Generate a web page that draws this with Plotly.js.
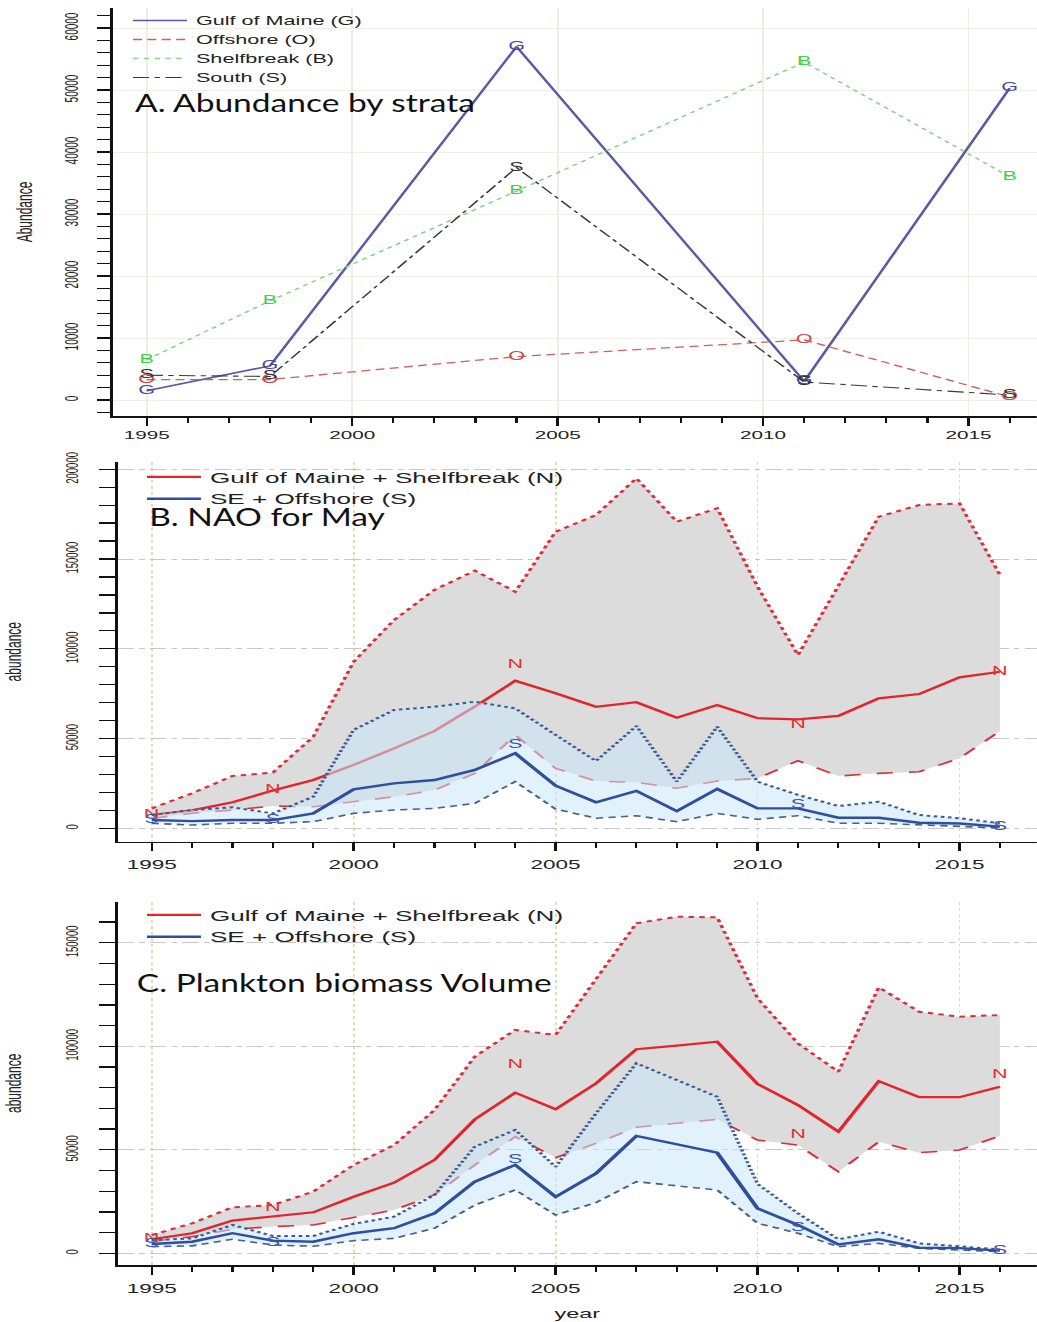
<!DOCTYPE html>
<html>
<head>
<meta charset="utf-8">
<script src="https://cdn.plot.ly/plotly-3.0.1.min.js"></script>
<style>
  html, body { margin: 0; padding: 0; background: #ffffff; overflow: hidden; }
  /* the figure is drawn narrow and widened as a whole (wide glyphs, as in the printed figure) */
  #chart { height: 1322px; transform-origin: 0 0; }
  /* panel headings keep closer-to-normal proportions */
  text.annotation-text { transform-box: fill-box; transform-origin: 50% 50%; transform: scaleX(0.745); }
</style>
</head>
<body>
<div id="chart"></div>
<script>
// ---- Panel A: abundance by stratum (survey years only) ----
const stratumYears = [1995, 1998, 2004, 2011, 2016];
const gulfOfMaine  = [1500, 5500, 57000, 3000, 50300];
const offshore     = [3300, 3300, 7000, 9700, 500];
const shelfbreak   = [6500, 16000, 33700, 54500, 36000];
const south        = [4000, 3800, 37500, 2900, 800];

// ---- Panels B and C: annual series ----
const years = [1995, 1996, 1997, 1998, 1999, 2000, 2001, 2002, 2003, 2004, 2005,
               2006, 2007, 2008, 2009, 2010, 2011, 2012, 2013, 2014, 2015, 2016];

// B. NAO for May
const nMeanB  = [7400, 10000, 14500, 21000, 26900, 35300, 44500, 54200, 67800, 82200, 75200,
                 67700, 70200, 61600, 68700, 61300, 60700, 62600, 72400, 74800, 84100, 87200];
const nUpperB = [11100, 19500, 29100, 31000, 51000, 92800, 116000, 132800, 143500, 131800, 165200,
                 174500, 195000, 170800, 178300, 134600, 96500, 134600, 173600, 180100, 181000, 141100];
const nLowerB = [5500, 8400, 10200, 12400, 12000, 14800, 17600, 21300, 30600, 52000, 33400,
                 26300, 25600, 22300, 26300, 27800, 37700, 29100, 30600, 31500, 39000, 54200];
const sMeanB  = [4600, 4000, 4600, 4600, 8300, 21700, 25000, 26900, 32500, 41800, 23700,
                 14500, 20800, 9600, 21900, 11100, 11100, 5900, 5900, 3100, 2700, 900];
const sUpperB = [7400, 10200, 11700, 8300, 17600, 54800, 65900, 67700, 70500, 66800, 52000,
                 37500, 57000, 26000, 56600, 26000, 18600, 12400, 14800, 7400, 5600, 2800];
const sLowerB = [2800, 1800, 2800, 2800, 3700, 8300, 10200, 11100, 13900, 26000, 10700,
                 5600, 7000, 3700, 8300, 5000, 7000, 2800, 2800, 1800, 900, 200];

// C. Plankton biomass volume
const nMeanC  = [6800, 9700, 15800, 17700, 19800, 27300, 34100, 45100, 64700, 77600, 69600,
                 82100, 98600, 100300, 102200, 81800, 71600, 58800, 83200, 75400, 75400, 80500];
const nUpperC = [8800, 14500, 22200, 23300, 29800, 42700, 52300, 69200, 95000, 107900, 105500,
                 132000, 159400, 162600, 162300, 123200, 101400, 87700, 128500, 116700, 114300, 115100];
const nLowerC = [5600, 8000, 11600, 12900, 13700, 17400, 20900, 28200, 42700, 56300, 46200,
                 53100, 60900, 62800, 64700, 54700, 52300, 39400, 53900, 48600, 49900, 56700];
const sMeanC  = [4500, 5600, 9700, 6100, 5600, 9700, 12100, 19300, 34600, 42700, 27300,
                 38600, 56700, 52700, 48600, 21700, 13700, 4300, 6800, 2700, 2500, 1300];
const sUpperC = [6300, 7200, 13700, 8400, 8400, 14200, 17700, 28200, 51500, 59600, 41800,
                 67600, 91800, 83700, 75600, 33500, 19300, 6800, 10400, 4800, 3200, 1900];
const sLowerC = [3200, 3600, 6800, 4000, 3400, 6100, 7200, 12100, 23300, 30600, 18500,
                 24500, 34600, 32500, 30600, 14500, 9700, 3200, 4800, 2400, 1700, 800];

// Letter markers along the N / S series
const letterYears = [1995, 1998, 2004, 2011, 2016];
const nLetterB = [7400, 21300, 91000, 57700, 87200];
const sLetterB = [4600, 4600, 46400, 13000, 900];
const nLetterC = [6800, 21700, 91000, 57200, 86100];
const sLetterC = [4500, 5100, 45100, 12100, 1300];

const legendNameN = 'Gulf of Maine + Shelfbreak (N)';
const legendNameS = 'SE + Offshore (S)';

// ---- page geometry: drawn at 1/STRETCH width, then widened ----
const STRETCH = 1.8;
const PAGE_W = 1037, H = 1322;
const W = PAGE_W / STRETCH;
const chartDiv = document.getElementById('chart');
chartDiv.style.width = W + 'px';
chartDiv.style.transform = 'scaleX(' + STRETCH + ')';

const fx = px => px / PAGE_W;     // page pixels -> paper fraction
const fy = px => 1 - px / H;
const hx = px => px / STRETCH;    // page pixels -> horizontal plot pixels

// ---- styling ----
const RED = '#e3242b';
const BLUE = '#2f4f9c';
const GREY_BAND = '#dcdcdc';
const BLUE_BAND = 'rgba(200,232,250,0.55)';
const SANS = 'Liberation Sans, Arial, Helvetica, sans-serif';

function letters(x, y, ch, color, xa, ya) {
  return {
    x: x, y: y, mode: 'text', text: x.map(() => ch),
    textfont: {family: SANS, size: 12, color: color},
    textposition: 'middle center', xaxis: xa, yaxis: ya,
    showlegend: false, hoverinfo: 'skip', cliponaxis: false
  };
}

function bandPanel(xa, ya, leg, nMean, nUp, nLo, sMean, sUp, sLo, nLet, sLet) {
  return [
    {x: years, y: nUp, mode: 'lines', xaxis: xa, yaxis: ya, showlegend: false,
     line: {color: '#d9303c', width: 2, dash: 'dot'}},
    {x: years, y: nLo, mode: 'lines', xaxis: xa, yaxis: ya, showlegend: false,
     fill: 'tonexty', fillcolor: GREY_BAND,
     line: {color: '#d9303c', width: 1.6, dash: 'dash'}},
    {x: years, y: nMean, mode: 'lines', xaxis: xa, yaxis: ya, name: legendNameN, legend: leg,
     line: {color: RED, width: 2.2}},
    {x: years, y: sUp, mode: 'lines', xaxis: xa, yaxis: ya, showlegend: false,
     line: {color: '#3d5a96', width: 2, dash: '2px,2px'}},
    {x: years, y: sLo, mode: 'lines', xaxis: xa, yaxis: ya, showlegend: false,
     fill: 'tonexty', fillcolor: BLUE_BAND,
     line: {color: '#4d6088', width: 1.6, dash: '4px,3px'}},
    {x: years, y: sMean, mode: 'lines', xaxis: xa, yaxis: ya, name: legendNameS, legend: leg,
     line: {color: BLUE, width: 2.4}},
    letters(letterYears, nLet, 'N', '#e03030', xa, ya),
    letters(letterYears, sLet, 'S', '#3b56a8', xa, ya)
  ];
}

const traces = [
  // Panel A
  {x: stratumYears, y: gulfOfMaine, mode: 'lines', name: 'Gulf of Maine (G)', legend: 'legend',
   line: {color: '#5a5aa6', width: 1.6}},
  {x: stratumYears, y: offshore, mode: 'lines', name: 'Offshore (O)', legend: 'legend',
   line: {color: '#c96262', width: 1.3, dash: '5px,3px'}},
  {x: stratumYears, y: shelfbreak, mode: 'lines', name: 'Shelfbreak (B)', legend: 'legend',
   line: {color: '#86d486', width: 1.3, dash: 'dot'}},
  {x: stratumYears, y: south, mode: 'lines', name: 'South (S)', legend: 'legend',
   line: {color: '#3a3a3a', width: 1.1, dash: 'dashdot'}},
  letters(stratumYears, gulfOfMaine, 'G', '#4646ad', 'x', 'y'),
  letters(stratumYears, offshore, 'O', '#cf4a4a', 'x', 'y'),
  letters(stratumYears, shelfbreak, 'B', '#3fd23f', 'x', 'y'),
  letters(stratumYears, south, 'S', '#333333', 'x', 'y')
].concat(
  bandPanel('x2', 'y2', 'legend2', nMeanB, nUpperB, nLowerB, sMeanB, sUpperB, sLowerB, nLetterB, sLetterB),
  bandPanel('x3', 'y3', 'legend3', nMeanC, nUpperC, nLowerC, sMeanC, sUpperC, sLowerC, nLetterC, sLetterC)
);

function xAxis(domainLeft, range, yAnchor, gridStyle, fontSize, standoff, extra) {
  return Object.assign({
    domain: [fx(domainLeft), 1], range: range, anchor: yAnchor,
    showline: true, linecolor: '#111', linewidth: 1.5,
    ticks: 'outside', ticklen: 8, tickwidth: 1.3, tickcolor: '#111',
    tick0: 1995, dtick: 5, ticklabelstandoff: standoff,
    tickfont: {family: SANS, size: fontSize, color: '#222'},
    minor: {dtick: 1, ticklen: 5, tickwidth: 1.2, tickcolor: '#111', showgrid: false},
    zeroline: false, fixedrange: true
  }, gridStyle, extra || {});
}

// labelStandoff is a whole number of (narrow) plot pixels
function yAxis(domainPx, range, xAnchor, dtick, minorDtick, ticklenPx, gridStyle, fontSize, labelStandoff, title, standoff) {
  return Object.assign({
    domain: [fy(domainPx[1]), fy(domainPx[0])], range: range, anchor: xAnchor,
    showline: true, linecolor: '#111', linewidth: 1.4,
    ticks: 'outside', ticklen: hx(ticklenPx), tickwidth: 1.3, tickcolor: '#111',
    tick0: 0, dtick: dtick, tickangle: -90, tickformat: 'd',
    tickfont: {family: SANS, size: fontSize, color: '#222'}, ticklabelstandoff: labelStandoff,
    minor: {dtick: minorDtick, ticklen: hx(ticklenPx), tickwidth: 1.3, tickcolor: '#111', showgrid: false},
    zeroline: false, fixedrange: true,
    title: {text: title, font: {family: SANS, size: 12, color: '#222'}, standoff: standoff}
  }, gridStyle);
}

const gridA_x = {showgrid: true, gridcolor: '#f0eee3', gridwidth: 1};
const gridA_y = {showgrid: true, gridcolor: '#f0efe6', gridwidth: 1};
const gridBC_x = {showgrid: true, gridcolor: '#e0dabf', gridwidth: 1, griddash: 'dot'};
const gridBC_y = {showgrid: true, gridcolor: '#c8c8c8', gridwidth: 1, griddash: 'dashdot'};

const legendBase = {xanchor: 'left', yanchor: 'top', bgcolor: 'rgba(0,0,0,0)', traceorder: 'normal'};

const layout = {
  width: W, height: H,
  margin: {l: 0, r: 0, t: 0, b: 0},
  paper_bgcolor: '#ffffff', plot_bgcolor: '#ffffff',
  showlegend: true,
  xaxis:  xAxis(113, [1994.18, 2016.66], 'y', gridA_x, 11.5, 0),
  yaxis:  yAxis([8, 416], [-2580, 63230], 'x', 10000, 2000, 13, gridA_y, 10, 7, 'Abundance', 13),
  xaxis2: xAxis(117.7, [1994.158, 2016.913], 'y2', gridBC_x, 12.5, 3),
  yaxis2: yAxis([461.7, 841.7], [-7465, 204230], 'x2', 50000, 10000, 16, gridBC_y, 9.5, 8, 'abundance', 19),
  xaxis3: xAxis(117.7, [1994.158, 2016.913], 'y3', gridBC_x, 12.5, 4,
                {title: {text: 'year', font: {family: SANS, size: 13, color: '#222'}, standoff: 13}}),
  yaxis3: yAxis([901.7, 1265], [-5652, 169855], 'x3', 50000, 10000, 16, gridBC_y, 9.5, 8, 'abundance', 19),
  legend:  Object.assign({x: fx(124), y: fy(6), font: {family: SANS, size: 12, color: '#222'}}, legendBase),
  legend2: Object.assign({x: fx(138), y: fy(461), font: {family: SANS, size: 14.5, color: '#222'}}, legendBase),
  legend3: Object.assign({x: fx(138), y: fy(899), font: {family: SANS, size: 14.5, color: '#222'}}, legendBase),
  annotations: [
    {text: 'A. Abundance by strata', x: fx(306), y: fy(103)},
    {text: 'B. NAO for May', x: fx(268), y: fy(516)},
    {text: 'C. Plankton biomass Volume', x: fx(343), y: fy(982)}
  ].map(a => Object.assign(a, {
    xref: 'paper', yref: 'paper', xanchor: 'center', yanchor: 'middle', showarrow: false,
    font: {family: 'Lato, Open Sans, sans-serif', size: 25, color: '#111'}
  }))
};

Plotly.newPlot('chart', traces, layout, {displayModeBar: false, staticPlot: true});
</script>
</body>
</html>
